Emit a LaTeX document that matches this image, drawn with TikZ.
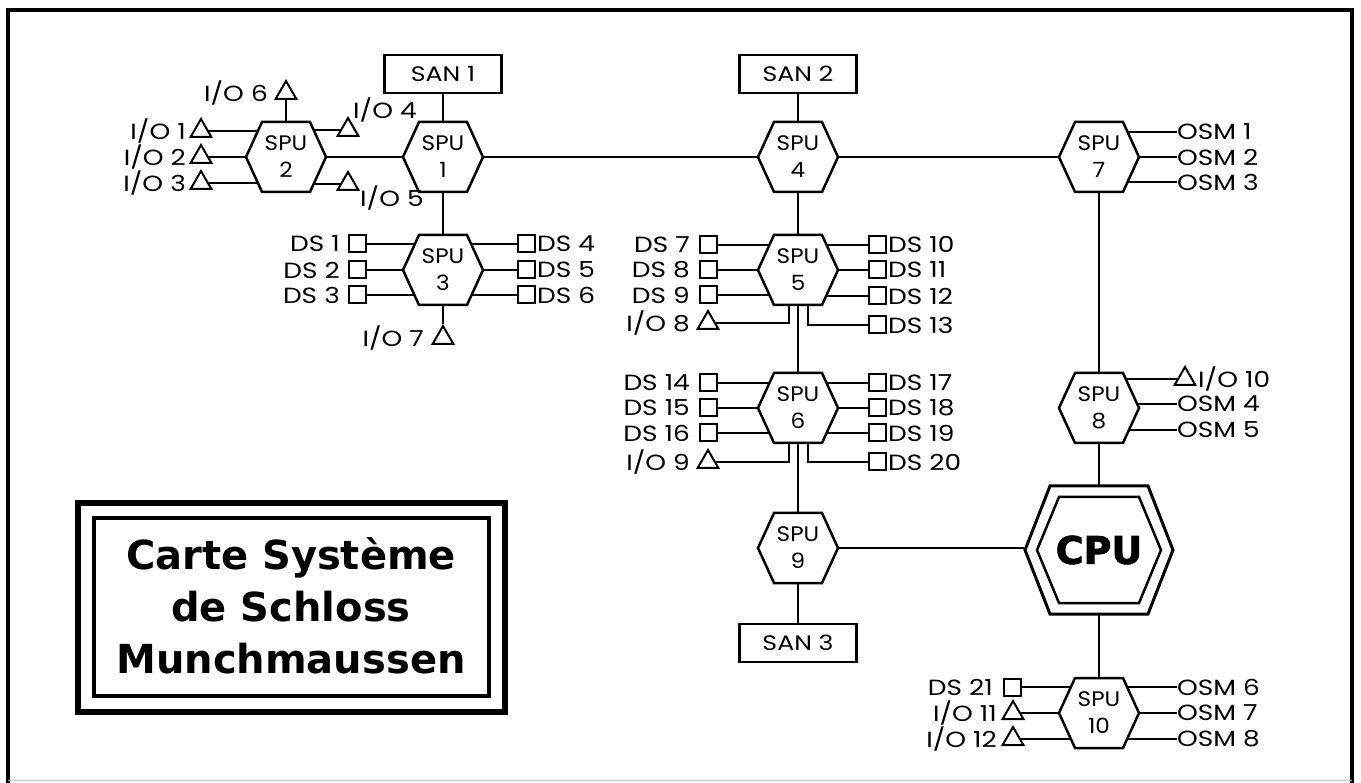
\documentclass[tikz,border=0pt]{standalone}
\usepackage{fontspec}
\newfontfamily\labfont[FakeStretch=1.2]{Poppins}
\newfontfamily\spufont[FakeStretch=1.1]{Poppins}
\newfontfamily\ttlfont{DejaVu Sans}
\usetikzlibrary{shapes.geometric,calc}
\pgfdeclarelayer{bg}\pgfdeclarelayer{mid}\pgfsetlayers{bg,mid,main}
\newcommand\hexout[5]{\draw[#5] ($(#1)+(-#2,0)$) -- ($(#1)+(-#4,-#3)$) -- ($(#1)+(#4,-#3)$) -- ($(#1)+(#2,0)$) -- ($(#1)+(#4,#3)$) -- ($(#1)+(-#4,#3)$) -- cycle;}
\begin{document}
\begin{tikzpicture}[x=1pt,y=-1pt,
  lab/.style={font=\labfont\fontsize{22}{22}\selectfont, inner sep=0},
  spu/.style={minimum width=80, minimum height=70, inner sep=0, align=center, font=\spufont\fontsize{21}{27}\selectfont},
  cpunode/.style={minimum width=148, minimum height=128, inner sep=0, font=\ttlfont\bfseries\addfontfeature{FakeBold=2}\fontsize{38}{38}\selectfont},
  sq/.style={draw, fill=white, line width=2, minimum size=17, inner sep=0},
  tri/.style={draw, fill=white, line width=2, regular polygon, regular polygon sides=3, minimum size=24, inner sep=0},
  sanbox/.style={draw, fill=white, line width=2.5, minimum width=117, minimum height=38, inner sep=0, font=\labfont\fontsize{21}{21}\selectfont},
  conn/.style={line width=2},
  hexline/.style={line width=2.5, fill=white}
]
\useasboundingbox (0,0) rectangle (1361,783);
% frame
\draw[line width=4] (8,783) -- (8,10) -- (1352,10) -- (1352,783);
\draw[line width=1, black!25] (8,780) -- (1352,780);

% processing units
\node[spu] (s1) at (443,157) {SPU\\1};
\node[spu] (s2) at (286,157) {SPU\\2};
\node[spu] (s3) at (443,270) {SPU\\3};
\node[spu] (s4) at (798,157) {SPU\\4};
\node[spu] (s5) at (798,270) {SPU\\5};
\node[spu] (s6) at (798,408) {SPU\\6};
\node[spu] (s7) at (1099,157) {SPU\\7};
\node[spu] (s8) at (1099,408) {SPU\\8};
\node[spu] (s9) at (798,548) {SPU\\9};
\node[spu] (s10) at (1099,713) {SPU\\10};
\node[cpunode] (cpu) at (1099,550) {CPU};

\begin{pgfonlayer}{mid}
\foreach \n in {s1,s2,s3,s4,s5,s6,s7,s8,s9,s10} {\hexout{\n}{40}{35}{24}{hexline}}
\hexout{cpu}{74}{64}{49}{line width=3, fill=white}
\hexout{cpu}{62}{53}{40}{line width=2.5}
\end{pgfonlayer}

% SAN boxes
\node[sanbox] (san1) at (443,74) {SAN 1};
\node[sanbox] (san2) at (798,74) {SAN 2};
\node[sanbox] (san3) at (798,643) {SAN 3};

% SPU 2 peripherals
\node[tri] (io1) at (201,131) {};
\node[lab, anchor=east] (lio1) at (186,131) {I/O 1};
\node[tri] (io2) at (201,157) {};
\node[lab, anchor=east] (lio2) at (186,157) {I/O 2};
\node[tri] (io3) at (201,183) {};
\node[lab, anchor=east] (lio3) at (186,183) {I/O 3};
\node[tri] (io6) at (286,93) {};
\node[lab, anchor=east] (lio6) at (268,93) {I/O 6};
\node[tri] (io4) at (348,130) {};
\node[lab, anchor=west] (lio4) at (353,110) {I/O 4};
\node[tri] (io5) at (348,184) {};
\node[lab, anchor=west] (lio5) at (360,198) {I/O 5};

% SPU 3 peripherals
\node[sq] (ds1) at (357,244) {};
\node[lab, anchor=east] (lds1) at (340,244) {DS 1};
\node[sq] (ds2) at (357,270) {};
\node[lab, anchor=east] (lds2) at (340,270) {DS 2};
\node[sq] (ds3) at (357,295) {};
\node[lab, anchor=east] (lds3) at (340,295) {DS 3};
\node[sq] (ds4) at (526,244) {};
\node[lab, anchor=west] (lds4) at (537,244) {DS 4};
\node[sq] (ds5) at (526,270) {};
\node[lab, anchor=west] (lds5) at (537,270) {DS 5};
\node[sq] (ds6) at (526,295) {};
\node[lab, anchor=west] (lds6) at (537,295) {DS 6};
\node[tri] (io7) at (443,338) {};
\node[lab, anchor=east] (lio7) at (424,338) {I/O 7};

% SPU 5 peripherals
\node[sq] (ds7) at (708,245) {};
\node[lab, anchor=east] (lds7) at (690,245) {DS 7};
\node[sq] (ds8) at (708,270) {};
\node[lab, anchor=east] (lds8) at (690,270) {DS 8};
\node[sq] (ds9) at (708,295) {};
\node[lab, anchor=east] (lds9) at (690,295) {DS 9};
\node[tri] (io8) at (708,323) {};
\node[lab, anchor=east] (lio8) at (690,323) {I/O 8};
\node[sq] (ds10) at (877,245) {};
\node[lab, anchor=west] (lds10) at (888,245) {DS 10};
\node[sq] (ds11) at (877,270) {};
\node[lab, anchor=west] (lds11) at (888,270) {DS 11};
\node[sq] (ds12) at (877,296) {};
\node[lab, anchor=west] (lds12) at (888,296) {DS 12};
\node[sq] (ds13) at (877,325) {};
\node[lab, anchor=west] (lds13) at (888,325) {DS 13};

% SPU 6 peripherals
\node[sq] (ds14) at (708,383) {};
\node[lab, anchor=east] (lds14) at (690,383) {DS 14};
\node[sq] (ds15) at (708,408) {};
\node[lab, anchor=east] (lds15) at (690,408) {DS 15};
\node[sq] (ds16) at (708,433) {};
\node[lab, anchor=east] (lds16) at (690,433) {DS 16};
\node[tri] (io9) at (708,462) {};
\node[lab, anchor=east] (lio9) at (690,462) {I/O 9};
\node[sq] (ds17) at (877,383) {};
\node[lab, anchor=west] (lds17) at (888,383) {DS 17};
\node[sq] (ds18) at (877,408) {};
\node[lab, anchor=west] (lds18) at (888,408) {DS 18};
\node[sq] (ds19) at (877,433) {};
\node[lab, anchor=west] (lds19) at (888,433) {DS 19};
\node[sq] (ds20) at (877,462) {};
\node[lab, anchor=west] (lds20) at (888,462) {DS 20};

% SPU 7 peripherals
\node[lab, anchor=west] (osm1) at (1177,132) {OSM 1};
\node[lab, anchor=west] (osm2) at (1177,157) {OSM 2};
\node[lab, anchor=west] (osm3) at (1177,182) {OSM 3};

% SPU 8 peripherals
\node[tri] (io10) at (1185,379) {};
\node[lab, anchor=west] (lio10) at (1198,379) {I/O 10};
\node[lab, anchor=west] (osm4) at (1177,404) {OSM 4};
\node[lab, anchor=west] (osm5) at (1177,430) {OSM 5};

% SPU 10 peripherals
\node[sq] (ds21) at (1012,687) {};
\node[lab, anchor=east] (lds21) at (993,687) {DS 21};
\node[tri] (io11) at (1013,713) {};
\node[lab, anchor=east] (lio11) at (997,713) {I/O 11};
\node[tri] (io12) at (1013,739) {};
\node[lab, anchor=east] (lio12) at (997,739) {I/O 12};
\node[lab, anchor=west] (osm6) at (1177,687) {OSM 6};
\node[lab, anchor=west] (osm7) at (1177,713) {OSM 7};
\node[lab, anchor=west] (osm8) at (1177,739) {OSM 8};

% title
\draw[line width=6] (78,503) rectangle (505,712);
\draw[line width=4] (94,518) rectangle (489,696);
\node[font=\ttlfont\bfseries\fontsize{40}{52}\selectfont, align=center, inner sep=0] (title) at (291,606) {Carte Système\\de Schloss\\Munchmaussen};

\begin{pgfonlayer}{bg}
% backbone
\draw[conn] (s2) -- (s1) -- (s4) -- (s7);
\draw[conn] (san1) -- (s1) -- (s3);
\draw[conn] (san2) -- (s4) -- (s5) -- (s6) -- (s9) -- (san3);
\draw[conn] (s9) -- (s9 -| cpu);
\draw[conn] (s7) -- (s8) -- (cpu) -- (s10);
% SPU 2
\draw[conn] (io1) -- (io1 -| s2);
\draw[conn] (io2) -- (s2);
\draw[conn] (io3) -- (io3 -| s2);
\draw[conn] (io6) -- (s2);
\draw[conn] (io4) -- (io4 -| s2);
\draw[conn] (io5) -- (io5 -| s2);
% SPU 3
\foreach \d in {ds1,ds2,ds3,ds4,ds5,ds6} {\draw[conn] (\d) -- (\d -| s3);}
\draw[conn] (s3) -- (io7);
% SPU 5
\foreach \d in {ds7,ds8,ds9,ds10,ds11,ds12} {\draw[conn] (\d) -- (\d -| s5);}
\draw[conn] (io8) -| ([xshift=-9pt]s5.south);
\draw[conn] ([xshift=10pt]s5.south) |- (ds13);
% SPU 6
\foreach \d in {ds14,ds15,ds16,ds17,ds18,ds19} {\draw[conn] (\d) -- (\d -| s6);}
\draw[conn] (io9) -| ([xshift=-9pt]s6.south);
\draw[conn] ([xshift=10pt]s6.south) |- (ds20);
% SPU 7
\foreach \o in {osm1,osm2,osm3} {\draw[conn] (\o.west) -- (\o.west -| s7);}
% SPU 8
\draw[conn] (io10) -- (io10 -| s8);
\foreach \o in {osm4,osm5} {\draw[conn] (\o.west) -- (\o.west -| s8);}
% SPU 10
\foreach \d in {ds21,io11,io12} {\draw[conn] (\d) -- (\d -| s10);}
\foreach \o in {osm6,osm7,osm8} {\draw[conn] (\o.west) -- (\o.west -| s10);}
\end{pgfonlayer}
\end{tikzpicture}
\end{document}
